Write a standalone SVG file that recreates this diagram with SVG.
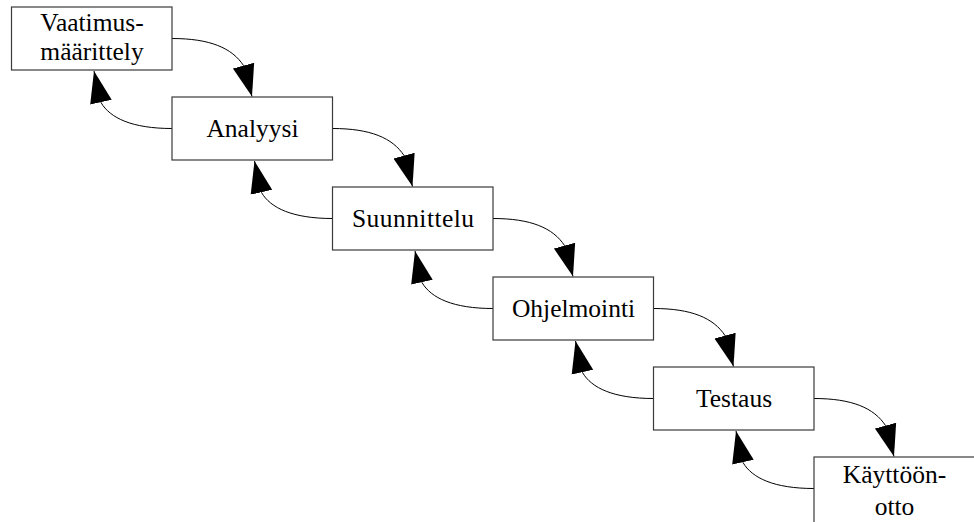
<svg xmlns="http://www.w3.org/2000/svg" width="974" height="522" viewBox="0 0 974 522">
  <style>
    .box { fill: #ffffff; stroke: #3a3a3a; stroke-width: 1.2; }
    .lbl { font-family: "Liberation Serif", "Times New Roman", serif; font-size: 25.5px; fill: #000000; text-anchor: middle; }
    .edge { fill: none; stroke: #000000; stroke-width: 1; marker-end: url(#head); }
  </style>
  <defs>
    <marker id="head" markerUnits="userSpaceOnUse" markerWidth="34" markerHeight="24" viewBox="0 -12 34 24" refX="32" refY="0" orient="auto">
      <path d="M0,-11 L32,0 L0,11 Z" fill="#000000"/>
    </marker>
  </defs>
  <rect width="974" height="522" fill="#ffffff"/>

  <!-- connectors: forward steps (right edge to top of next) and feedback (left edge to bottom of previous) -->
  <g id="connectors">
    <path class="edge" d="M172,38.5 C210,38.5 232,48 243.5,65.5 L252,96.5"/>
    <path class="edge" d="M332.5,128.5 C370.5,128.5 392.5,138 404,155.5 L412.5,186.5"/>
    <path class="edge" d="M493,218.5 C531,218.5 553,228 564.5,245.5 L573,276.5"/>
    <path class="edge" d="M653.5,308.5 C691.5,308.5 713.5,318 725,335.5 L733.5,366.5"/>
    <path class="edge" d="M814,398.5 C852,398.5 874,408 885.5,425.5 L894,456.5"/>

    <path class="edge" d="M172,128.5 C132,128.5 110,118 101,102.5 L94,71"/>
    <path class="edge" d="M332.5,218.5 C292.5,218.5 270.5,208 261.5,192.5 L254.5,161"/>
    <path class="edge" d="M493,308.5 C453,308.5 431,298 422,282.5 L415,251"/>
    <path class="edge" d="M653.5,398.5 C613.5,398.5 591.5,388 582.5,372.5 L575.5,341"/>
    <path class="edge" d="M814,488.5 C774,488.5 752,478 743,462.5 L736,431"/>
  </g>

  <g id="vaatimusmaarittely">
    <rect class="box" x="11.5" y="7" width="160.5" height="63"/>
    <text class="lbl" x="92" y="31">Vaatimus-</text>
    <text class="lbl" x="92" y="60">määrittely</text>
  </g>
  <g id="analyysi">
    <rect class="box" x="172" y="97" width="160.5" height="63"/>
    <text class="lbl" x="252.5" y="136.5">Analyysi</text>
  </g>
  <g id="suunnittelu">
    <rect class="box" x="332.5" y="187" width="160.5" height="63"/>
    <text class="lbl" x="413" y="226.5" textLength="122" lengthAdjust="spacing">Suunnittelu</text>
  </g>
  <g id="ohjelmointi">
    <rect class="box" x="493" y="277" width="160.5" height="63"/>
    <text class="lbl" x="573.5" y="316.5">Ohjelmointi</text>
  </g>
  <g id="testaus">
    <rect class="box" x="653.5" y="367" width="160.5" height="63"/>
    <text class="lbl" x="734" y="407">Testaus</text>
  </g>
  <g id="kayttoonotto">
    <rect class="box" x="814" y="457" width="170" height="80"/>
    <text class="lbl" x="894.5" y="483">Käyttöön-</text>
    <text class="lbl" x="894.5" y="515">otto</text>
  </g>
</svg>
